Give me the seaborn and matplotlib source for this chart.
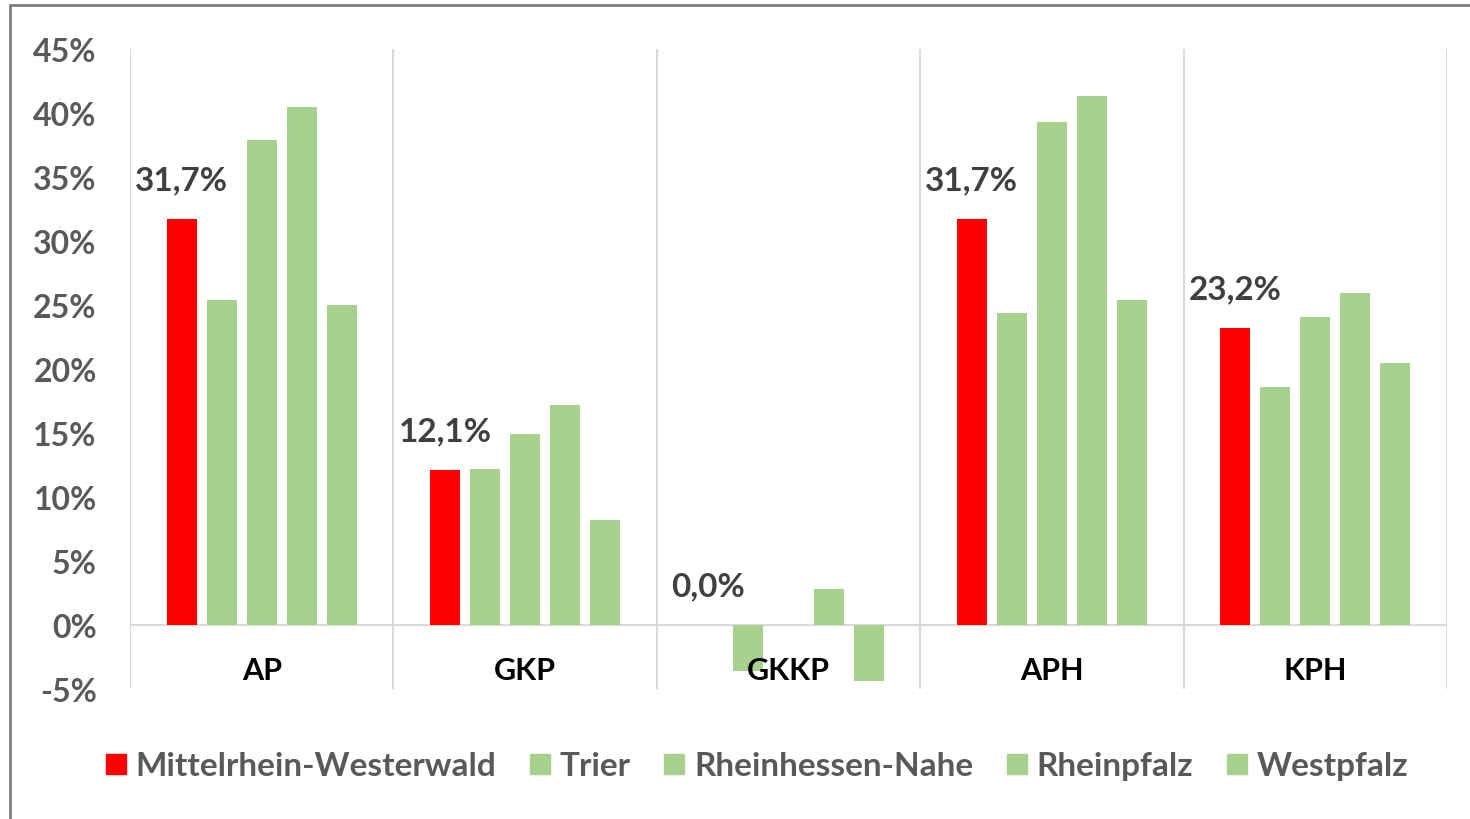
import matplotlib
matplotlib.use("Agg")
import matplotlib.pyplot as plt
import seaborn as sns
import pandas as pd
from matplotlib.lines import Line2D

categories = ["AP", "GKP", "GKKP", "APH", "KPH"]
regions = ["Mittelrhein-Westerwald", "Trier", "Rheinhessen-Nahe", "Rheinpfalz", "Westpfalz"]
mittelrhein = [31.7, 12.1, 0.0, 31.7, 23.2]
trier = [25.4, 12.2, -3.6, 24.4, 18.6]
rheinhessen = [37.9, 14.9, 0.0, 39.3, 24.1]
rheinpfalz = [40.5, 17.2, 2.8, 41.3, 25.9]
westpfalz = [25.0, 8.2, -4.4, 25.4, 20.5]
yticks = [-5, 0, 5, 10, 15, 20, 25, 30, 35, 40, 45]

series = [mittelrhein, trier, rheinhessen, rheinpfalz, westpfalz]
rows = []
for reg, vals in zip(regions, series):
    for cat, v in zip(categories, vals):
        rows.append({"Kategorie": cat, "Region": reg, "Wert": v})
df = pd.DataFrame(rows)

RED = "#FF0000"
GREEN = "#A9D18E"
palette = {regions[0]: RED}
for r in regions[1:]:
    palette[r] = GREEN

sns.set_theme(style="white")
plt.rcParams["font.family"] = ["Lato", "DejaVu Sans"]

fig = plt.figure(figsize=(14.7, 8.2), dpi=100)
ax = fig.add_axes([130/1470, 1-690/820, (1447-130)/1470, (690-50)/820])

sns.barplot(data=df, x="Kategorie", y="Wert", hue="Region", order=categories,
            hue_order=regions, palette=palette, width=0.76, gap=0.25,
            saturation=1, ax=ax, legend=False, errorbar=None, linewidth=0)

ax.set_ylim(-5, 45)
ax.set_xlim(-0.5, 4.5)
ax.set_yticks(yticks)
ax.set_yticklabels([f"{t}%" for t in yticks], color="#595959", fontsize=23, fontweight="bold")
ax.tick_params(axis="y", length=0, pad=24)
ax.set_xticks([])
ax.set_xlabel("")
ax.set_ylabel("")
for s in ax.spines.values():
    s.set_visible(False)

ax.axhline(0, color="#D9D9D9", lw=1.5, zorder=0.5)
for xb in [-0.5, 0.5, 1.5, 2.5, 3.5, 4.5]:
    ax.axvline(xb, color="#D9D9D9", lw=1.5, zorder=0.5)

for i, cat in enumerate(categories):
    ax.text(i, -3.55, cat, ha="center", va="center", fontsize=22,
            fontweight="bold", color="black", zorder=5)

labels = [f"{v:.1f}%".replace(".", ",") for v in mittelrhein]
ax.bar_label(ax.containers[0], labels=labels, padding=18, fontsize=24,
             fontweight="bold", color="#404040")

handles = [Line2D([], [], marker="s", linestyle="none", markersize=14,
                  markerfacecolor=palette[r], markeredgecolor=palette[r]) for r in regions]
fig.legend(handles, regions, loc="center", bbox_to_anchor=(757/1470, 1-767/820),
           ncol=5, frameon=False, handlelength=0.6, handletextpad=0.3, columnspacing=1.0,
           prop={"size": 24, "weight": "bold"}, labelcolor="#595959")

# outer frame (top and left visible)
fig.add_artist(Line2D([10/1470, 1.0], [1-6/820, 1-6/820], transform=fig.transFigure,
                      color="#7F7F7F", lw=2))
fig.add_artist(Line2D([10/1470, 10/1470], [0, 1-6/820], transform=fig.transFigure,
                      color="#7F7F7F", lw=2))

fig.savefig("out.png", dpi=100, facecolor="white")
